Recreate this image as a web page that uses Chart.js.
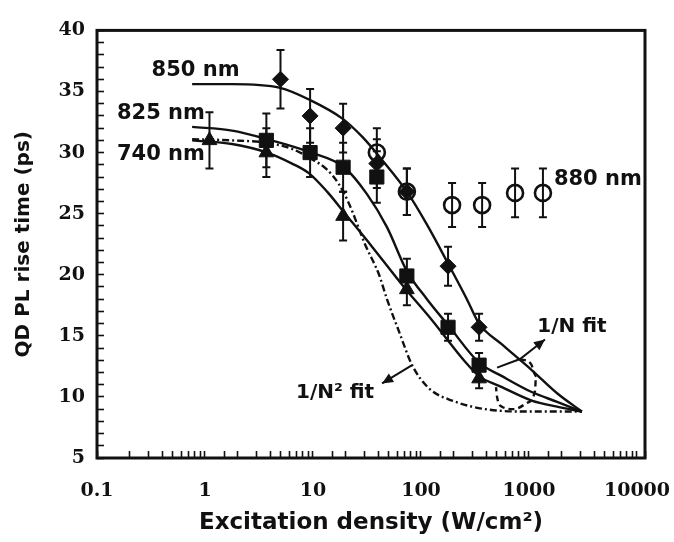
<!DOCTYPE html>
<html>
<head>
<meta charset="utf-8">
<script src="https://cdn.jsdelivr.net/npm/chart.js@4.4.0/dist/chart.umd.min.js"></script>
<style>
  html, body { margin: 0; padding: 0; background: #fff; }
  #wrap { width: 674px; height: 542px; }
</style>
</head>
<body>
<div id="wrap"><canvas id="c" width="674" height="542"></canvas></div>
<script>
// ---------- data ----------
const xTickLabels = ['0.1', '1', '10', '100', '1000', '10000'];
const yTickLabels = [5, 10, 15, 20, 25, 30, 35, 40];

// 740 nm (triangles)
const x740 = [1.1, 3.7, 19, 74, 345];
const y740 = [31.0, 30.0, 24.8, 18.8, 11.5];
const err740 = [2.3, 2.0, 2.0, 1.3, 0.8];

// 825 nm (squares)
const x825 = [3.7, 9.4, 19, 39, 74, 178, 345];
const y825 = [31.0, 30.0, 28.8, 28.0, 19.9, 15.7, 12.6];
const err825 = [2.2, 2.0, 2.0, 2.1, 1.4, 1.1, 1.0];

// 850 nm (diamonds)
const x850 = [5, 9.4, 19, 39, 74, 178, 345];
const y850 = [36.0, 33.0, 32.0, 29.1, 26.8, 20.7, 15.7];
const err850 = [2.4, 2.2, 2.0, 2.0, 1.9, 1.6, 1.1];

// 880 nm (open circles)
const x880 = [39, 74, 194, 368, 743, 1346];
const y880 = [30.0, 26.8, 25.7, 25.7, 26.7, 26.7];
const err880 = [2.0, 1.9, 1.8, 1.8, 2.0, 2.0];

// fitted curves (1/N fits, solid)
const fitX850 = [0.76, 1.78, 4.95, 9.4, 18.6, 28.5, 43.6, 74, 113.6, 181, 266, 345, 562, 1059, 1820, 3090];
const fitY850 = [35.6, 35.6, 35.3, 34.3, 32.8, 31.3, 29.4, 26.8, 24.1, 20.8, 18.0, 16.0, 14.3, 12.2, 10.3, 8.8];
const fitX825 = [0.76, 1.78, 3.75, 9.6, 19.4, 31.6, 48.4, 74, 113.6, 181, 345, 562, 1059, 1820, 3090];
const fitY825 = [32.1, 31.8, 31.1, 30.0, 28.8, 26.6, 23.9, 20.3, 18.0, 15.8, 12.8, 11.7, 10.4, 9.6, 8.8];
const fitX740 = [0.76, 1.78, 3.75, 6.4, 9.2, 13.5, 19.4, 35.2, 71, 126, 255, 345, 562, 1059, 1820, 3090];
const fitY740 = [31.0, 30.7, 30.0, 29.1, 28.3, 26.8, 25.1, 22.3, 18.9, 16.3, 12.9, 11.7, 10.8, 9.7, 9.2, 8.8];

// 1/N^2 fit (dash-dot)
const fitXN2 = [0.76, 1.78, 3.75, 6.4, 9.6, 13.5, 17.4, 21.6, 30.3, 40.9, 48.4, 62.9, 82.7, 118.6, 194, 392, 1059, 3090];
const fitYN2 = [31.1, 31.0, 30.8, 30.3, 29.5, 28.6, 27.4, 25.8, 22.5, 20.0, 18.0, 15.3, 12.6, 10.7, 9.7, 9.0, 8.8, 8.8];

// dashed loop marking the 1/N fits
const loopX = [826, 1044, 1161, 1137, 958, 726, 562, 506, 495];
const loopY = [13.1, 12.7, 11.7, 10.5, 9.5, 9.0, 9.2, 10.0, 10.8];

// annotation arrows (data coordinates)
const arrowN = { x: [506, 826, 1406], y: [12.4, 13.1, 14.7] };
const arrowN2 = { x: [82.7, 43.6], y: [12.6, 11.1] };

// text annotations (data coordinates)
const notes = [
  { text: '850 nm', x: 0.32, y: 36.7, align: 'left' },
  { text: '825 nm', x: 0.153, y: 33.2, align: 'left' },
  { text: '740 nm', x: 0.153, y: 29.8, align: 'left' },
  { text: '880 nm', x: 1700, y: 27.8, align: 'left' },
  { text: '1/N fit', x: 2500, y: 15.7, align: 'center' },
  { text: '1/N\u00B2 fit', x: 16, y: 10.3, align: 'center' }
];

// ---------- helpers ----------
const pts = (xs, ys) => xs.map((x, i) => ({ x: x, y: ys[i] }));

function lineSet(xs, ys, dash) {
  return {
    data: pts(xs, ys), showLine: true, pointRadius: 0, borderColor: '#111',
    borderWidth: 2.4, borderDash: dash || [], cubicInterpolationMode: 'monotone',
    fill: false
  };
}
function markSet(xs, ys, errs, style, radius, filled) {
  return {
    data: pts(xs, ys), errors: errs, showLine: false, pointStyle: style,
    pointRadius: radius, pointHoverRadius: radius,
    pointBackgroundColor: filled ? '#111' : 'rgba(0,0,0,0)',
    pointBorderColor: '#111', pointBorderWidth: filled ? 1 : 2.6
  };
}

const errorBars = {
  id: 'errorBars',
  beforeDatasetsDraw(chart) {
    const { ctx, scales: { x, y } } = chart;
    ctx.save();
    ctx.strokeStyle = '#111';
    ctx.lineWidth = 2;
    chart.data.datasets.forEach(ds => {
      if (!ds.errors) return;
      ds.data.forEach((p, i) => {
        const e = ds.errors[i];
        const px = x.getPixelForValue(p.x);
        const top = y.getPixelForValue(p.y + e);
        const bot = y.getPixelForValue(p.y - e);
        ctx.beginPath();
        ctx.moveTo(px, top); ctx.lineTo(px, bot);
        ctx.moveTo(px - 4, top); ctx.lineTo(px + 4, top);
        ctx.moveTo(px - 4, bot); ctx.lineTo(px + 4, bot);
        ctx.stroke();
      });
    });
    ctx.restore();
  }
};

function drawArrow(ctx, xs, ys, sx, sy) {
  const P = xs.map((v, i) => [sx.getPixelForValue(v), sy.getPixelForValue(ys[i])]);
  ctx.beginPath();
  ctx.moveTo(P[0][0], P[0][1]);
  for (let i = 1; i < P.length; i++) ctx.lineTo(P[i][0], P[i][1]);
  ctx.stroke();
  const a = P[P.length - 2], b = P[P.length - 1];
  const ang = Math.atan2(b[1] - a[1], b[0] - a[0]);
  const L = 11, W = 5;
  ctx.beginPath();
  ctx.moveTo(b[0], b[1]);
  ctx.lineTo(b[0] - L * Math.cos(ang) + W * Math.sin(ang), b[1] - L * Math.sin(ang) - W * Math.cos(ang));
  ctx.lineTo(b[0] - L * Math.cos(ang) - W * Math.sin(ang), b[1] - L * Math.sin(ang) + W * Math.cos(ang));
  ctx.closePath();
  ctx.fill();
}

const annotations = {
  id: 'annotations',
  afterDatasetsDraw(chart) {
    const { ctx, scales: { x, y } } = chart;
    ctx.save();
    ctx.fillStyle = '#111';
    ctx.strokeStyle = '#111';
    ctx.lineWidth = 2;
    drawArrow(ctx, arrowN.x, arrowN.y, x, y);
    drawArrow(ctx, arrowN2.x, arrowN2.y, x, y);
    ctx.textBaseline = 'middle';
    notes.forEach(n => {
      ctx.font = (n.text.indexOf('fit') >= 0 ? 'bold 20px' : 'bold 21px') + ' "DejaVu Sans", sans-serif';
      ctx.textAlign = n.align;
      ctx.fillText(n.text, x.getPixelForValue(n.x), y.getPixelForValue(n.y));
    });
    ctx.restore();
  },
  afterDraw(chart) {
    const { ctx, chartArea: a } = chart;
    ctx.save();
    ctx.strokeStyle = '#111';
    ctx.lineWidth = 3;
    ctx.strokeRect(a.left, a.top, a.right - a.left, a.bottom - a.top);
    ctx.restore();
  }
};

const tickFont = { family: '"DejaVu Serif", serif', size: 19, weight: 'bold' };

new Chart(document.getElementById('c'), {
  type: 'scatter',
  data: {
    datasets: [
      lineSet(fitX850, fitY850),
      lineSet(fitX825, fitY825),
      lineSet(fitX740, fitY740),
      lineSet(fitXN2, fitYN2, [7, 3, 2, 3]),
      lineSet(loopX, loopY, [6, 4]),
      markSet(x880, y880, err880, 'circle', 8, false),
      markSet(x850, y850, err850, 'rectRot', 8, true),
      markSet(x825, y825, err825, 'rect', 10, true),
      markSet(x740, y740, err740, 'triangle', 8.5, true)
    ]
  },
  options: {
    responsive: false,
    animation: false,
    events: [],
    layout: { padding: { left: 4, right: 29, top: 23, bottom: 0 } },
    plugins: { legend: { display: false }, tooltip: { enabled: false } },
    scales: {
      x: {
        type: 'logarithmic',
        min: 0.1,
        max: 11860,
        border: { display: false },
        grid: { drawOnChartArea: false, drawTicks: true, tickLength: -7, tickWidth: 1.6, tickColor: '#111' },
        ticks: {
          autoSkip: false, maxRotation: 0, minRotation: 0, padding: 29,
          color: '#111', font: tickFont,
          callback: function (v) {
            const e = Math.log10(v);
            const r = Math.round(e);
            if (Math.abs(e - r) < 1e-6) {
              const idx = r + 1;
              return xTickLabels[idx] !== undefined ? xTickLabels[idx] : '';
            }
            return '';
          }
        },
        title: {
          display: true, text: 'Excitation density (W/cm\u00B2)', color: '#111',
          font: { family: '"DejaVu Sans", sans-serif', size: 23, weight: 'bold' },
          padding: { top: 0, bottom: 5 }
        },
        afterFit: s => { s.height = 542 - 458; }
      },
      y: {
        type: 'linear',
        min: 5,
        max: 40,
        border: { display: false },
        grid: { drawOnChartArea: false, drawTicks: true, tickLength: -7, tickWidth: 1.6, tickColor: '#111' },
        ticks: {
          stepSize: 1, autoSkip: false, padding: 19, color: '#111', font: tickFont,
          callback: v => (yTickLabels.indexOf(v) >= 0 ? String(v) : '')
        },
        title: {
          display: true, text: 'QD PL rise time (ps)', color: '#111',
          font: { family: '"DejaVu Sans", sans-serif', size: 20, weight: 'bold' },
          padding: { top: 8, bottom: 0 }
        },
        afterFit: s => { s.width = 97 - 4; }
      }
    }
  },
  plugins: [errorBars, annotations]
});
</script>
</body>
</html>
